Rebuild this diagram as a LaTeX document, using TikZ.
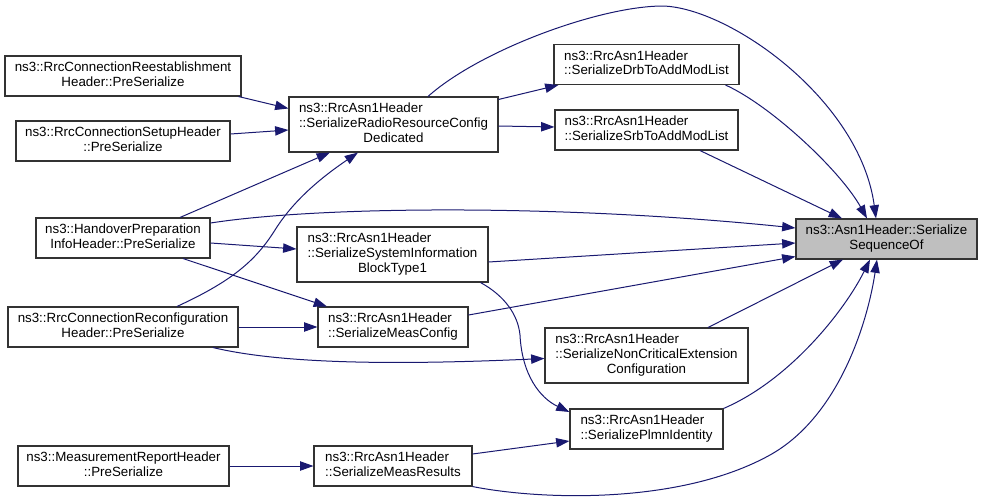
\documentclass[tikz,border=0pt]{standalone}
\usepackage{fontspec}
\setmainfont{Liberation Sans}
\usetikzlibrary{arrows.meta}
\definecolor{edgecol}{HTML}{191970}
\definecolor{boxcol}{HTML}{333333}
\definecolor{rootfill}{HTML}{BFBFBF}
\newcommand{\txtL}[2]{\begin{tabular}{@{}l@{}}#1\\#2\end{tabular}}
\newcommand{\txtLC}[3]{\begin{tabular}{@{}l@{}}#1\\#2\\\multicolumn{1}{@{}c@{}}{#3}\end{tabular}}
\newcommand{\txtC}[2]{\begin{tabular}{@{}c@{}}#1\\#2\end{tabular}}
\newcommand{\pxnode}[7][]{\node[box,#1,minimum width={(#5-#3)*0.75pt},minimum height={(#6-#4)*0.75pt}] (#2) at ({(#3+#5)/2},{(#4+#6)/2}) {#7};}
\begin{document}
\begin{tikzpicture}[x=0.75pt,y=-0.75pt,
  box/.style={draw=boxcol,line width=0.8pt,fill=white,inner sep=0pt,font=\fontsize{10}{11}\selectfont},
  rootbox/.style={fill=rootfill},
  edgeline/.style={draw=edgecol,line width=0.75pt,-{Triangle[length=10pt,width=7pt]}}]
\useasboundingbox (0,0) rectangle (983,504);
% nodes
\pxnode{Reest}{5}{56}{241}{96}{\txtC{ns3::RrcConnectionReestablishment}{Header::PreSerialize}}
\pxnode{Setup}{16}{121}{230}{161}{\txtC{ns3::RrcConnectionSetupHeader}{::PreSerialize}}
\pxnode{Handover}{36}{218}{210}{258}{\txtC{ns3::HandoverPreparation}{InfoHeader::PreSerialize}}
\pxnode{Reconf}{8}{307}{238}{347}{\txtC{ns3::RrcConnectionReconfiguration}{Header::PreSerialize}}
\pxnode{MeasReport}{18}{446}{229}{486}{\txtC{ns3::MeasurementReportHeader}{::PreSerialize}}
\pxnode{RadioRes}{289}{97}{498}{152}{\txtLC{ns3::RrcAsn1Header}{::SerializeRadioResourceConfig}{Dedicated}}
\pxnode{SysInfo}{297}{227}{488}{282}{\txtLC{ns3::RrcAsn1Header}{::SerializeSystemInformation}{BlockType1}}
\pxnode{MeasConfig}{318}{307}{468}{347}{\txtL{ns3::RrcAsn1Header}{::SerializeMeasConfig}}
\pxnode{MeasResults}{314}{446}{472}{486}{\txtL{ns3::RrcAsn1Header}{::SerializeMeasResults}}
\pxnode{Drb}{554}{44.5}{739}{84.5}{\txtL{ns3::RrcAsn1Header}{::SerializeDrbToAddModList}}
\pxnode{Srb}{555}{110}{738}{150}{\txtL{ns3::RrcAsn1Header}{::SerializeSrbToAddModList}}
\pxnode{NonCrit}{545}{328}{748}{383}{\txtLC{ns3::RrcAsn1Header}{::SerializeNonCriticalExtension}{Configuration}}
\pxnode{Plmn}{570}{409}{723}{449}{\txtL{ns3::RrcAsn1Header}{::SerializePlmnIdentity}}
\pxnode[rootbox]{Target}{796}{219}{977}{259}{\txtC{ns3::Asn1Header::Serialize}{SequenceOf}}
% edges
\draw[edgeline] ([shift={(-3,0)}]Reest.south east) -- ([shift={(0,-16)}]RadioRes.west);
\draw[edgeline] ([shift={(0,-7)}]Setup.east) -- ([shift={(0,5.5)}]RadioRes.west);
\draw[edgeline] ([shift={(57,0)}]Handover.north) -- ([shift={(-63.5,0)}]RadioRes.south);
\draw[edgeline] ([shift={(54,0)}]Reconf.north) .. controls (230,282) and (255,262) .. (275,230)
  .. controls (295,198) and (325,175) .. ([shift={(-35.5,0)}]RadioRes.south);
\draw[edgeline] ([shift={(0,-15)}]Handover.east) .. controls (320,206) and (560,204) .. ([shift={(0,-11)}]Target.west);
\draw[edgeline] ([shift={(0,5)}]Handover.east) -- ([shift={(0,-5.5)}]SysInfo.west);
\draw[edgeline] ([shift={(60,0)}]Handover.south) -- ([shift={(-66,0)}]MeasConfig.north);
\draw[edgeline] (Reconf.east) -- (MeasConfig.west);
\draw[edgeline] ([shift={(90,0)}]Reconf.south) .. controls (290,366) and (420,364) .. ([shift={(0,3)}]NonCrit.west);
\draw[edgeline] (MeasReport.east) -- (MeasResults.west);
\draw[edgeline] ([shift={(34.5,0)}]RadioRes.north) .. controls (480,50) and (600,6) .. (663,6)
  .. controls (730,8) and (860,100) .. ([shift={(-10.5,0)}]Target.north);
\draw[edgeline] ([shift={(0,3)}]RadioRes.north east) -- ([shift={(5,0)}]Drb.south west);
\draw[edgeline] ([shift={(0,1.5)}]RadioRes.east) -- ([shift={(0,-3)}]Srb.west);
\draw[edgeline] ([shift={(-14,0)}]Drb.south east) .. controls (770,105) and (840,170) .. ([shift={(-19.5,0)}]Target.north);
\draw[edgeline] ([shift={(53.5,0)}]Srb.south) -- ([shift={(-44.5,0)}]Target.north);
\draw[edgeline] ([shift={(0,7.5)}]SysInfo.east) -- ([shift={(0,4)}]Target.west);
\draw[edgeline] ([shift={(-8,0)}]SysInfo.south east) .. controls (505,296) and (518,315) .. (520,335)
  .. controls (522,375) and (540,398) .. ([shift={(0,-17)}]Plmn.west);
\draw[edgeline] ([shift={(0,-12)}]MeasConfig.east) -- ([shift={(0,-3)}]Target.south west);
\draw[edgeline] ([shift={(61.5,0)}]NonCrit.north) -- ([shift={(-43.5,0)}]Target.south);
\draw[edgeline] ([shift={(0,-12)}]MeasResults.east) -- ([shift={(0,12)}]Plmn.west);
\draw[edgeline] (Plmn.north east) .. controls (790,380) and (845,310) .. ([shift={(-16.5,0)}]Target.south);
\draw[edgeline] (MeasResults.south east) .. controls (540,500) and (680,505) .. (770,455)
  .. controls (840,416) and (868,320) .. ([shift={(-9.5,0)}]Target.south);
\end{tikzpicture}
\end{document}
